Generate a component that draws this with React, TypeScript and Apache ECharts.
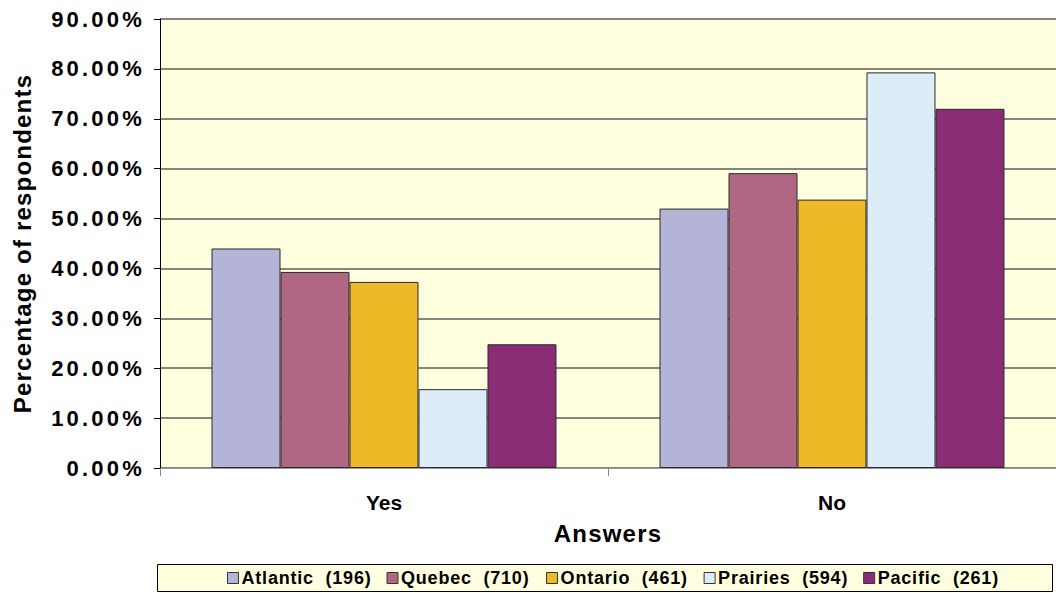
import React, { useEffect, useRef } from "react";
import * as echarts from "echarts";

const categories = ["Yes", "No"];
const regions = ["Atlantic  (196)", "Quebec  (710)", "Ontario  (461)", "Prairies  (594)", "Pacific  (261)"];
const atlantic = [44.0, 52.0];
const quebec = [39.3, 59.1];
const ontario = [37.3, 53.8];
const prairies = [15.8, 79.3];
const pacific = [24.8, 72.0];
const colors = ["#B4B4D7", "#B06783", "#EDB927", "#DCEDF8", "#8B2C76"];
const yTicks = { min: 0, max: 90, interval: 10 };

const seriesValues = [atlantic, quebec, ontario, prairies, pacific];

export default function App() {
  const ref = useRef<HTMLDivElement>(null);
  useEffect(() => {
    if (!ref.current) return;
    const chart = echarts.init(ref.current, null, { renderer: "svg" });
    const font = "Liberation Sans";
    chart.setOption({
      animation: false,
      grid: {
        left: 160,
        top: 19,
        right: 0,
        bottom: 125,
        show: true,
        backgroundColor: "#FFFFDF",
        borderWidth: 0,
      },
      graphic: [
        {
          type: "rect",
          shape: { x: 157.5, y: 564.5, width: 895, height: 27 },
          style: { fill: "#FFFFDF", stroke: "#000", lineWidth: 1 },
          z: 0,
        },
      ],
      legend: {
        data: regions,
        left: 222,
        top: 564,
        itemWidth: 11,
        itemHeight: 11,
        itemGap: 27,
        icon: "rect",
        z: 5,
        textStyle: {
          fontFamily: font,
          fontWeight: "bold",
          fontSize: 18,
          color: "#000",
          padding: [0, 0, 0, -2],
        },
        itemStyle: { borderColor: "#333", borderWidth: 1 },
      },
      xAxis: {
        type: "category",
        data: categories,
        name: "Answers",
        nameLocation: "middle",
        nameGap: 53,
        nameTextStyle: { fontFamily: font, fontWeight: "bold", fontSize: 24, color: "#000" },
        axisLine: { lineStyle: { color: "#999", width: 1 } },
        axisTick: { show: true, length: 8, lineStyle: { color: "#888" } },
        axisLabel: { margin: 24, fontFamily: font, fontWeight: "bold", fontSize: 21, color: "#000" },
        splitLine: { show: false },
      },
      yAxis: {
        type: "value",
        min: yTicks.min,
        max: yTicks.max,
        interval: yTicks.interval,
        name: "Percentage of respondents",
        nameLocation: "middle",
        nameGap: 126,
        nameRotate: 90,
        nameTextStyle: { fontFamily: font, fontWeight: "bold", fontSize: 24, color: "#000" },
        axisLine: { show: true, lineStyle: { color: "#000", width: 1 } },
        axisTick: { show: true, length: 6, lineStyle: { color: "#000" } },
        axisLabel: {
          margin: 15,
          fontFamily: "Liberation Sans, Arial",
          fontWeight: "bold",
          fontSize: 22,
          color: "#000",
          formatter: (v: number) => v.toFixed(2) + "%",
        },
        splitLine: { show: true, lineStyle: { color: "#5c5c5c", width: 1.5 } },
      },
      series: regions.map((name, i) => ({
        name,
        type: "bar",
        data: seriesValues[i],
        barGap: "0%",
        barCategoryGap: "23%",
        itemStyle: { color: colors[i], borderColor: "#2a2a2a", borderWidth: 1 },
      })),
    });
    return () => chart.dispose();
  }, []);
  return (
    <>
      <style>{`
        .chartbox svg text[style*="24px"] { letter-spacing: 1.2px; }
        .chartbox svg text[style*="18px"] { letter-spacing: 0.8px; }
        .chartbox svg text[style*="Arial"] { letter-spacing: 3.2px !important; }
      `}</style>
      <div
        ref={ref}
        className="chartbox"
        style={{ position: "fixed", left: 0, top: 0, width: 1056, height: 593, background: "#fff" }}
      />
    </>
  );
}
